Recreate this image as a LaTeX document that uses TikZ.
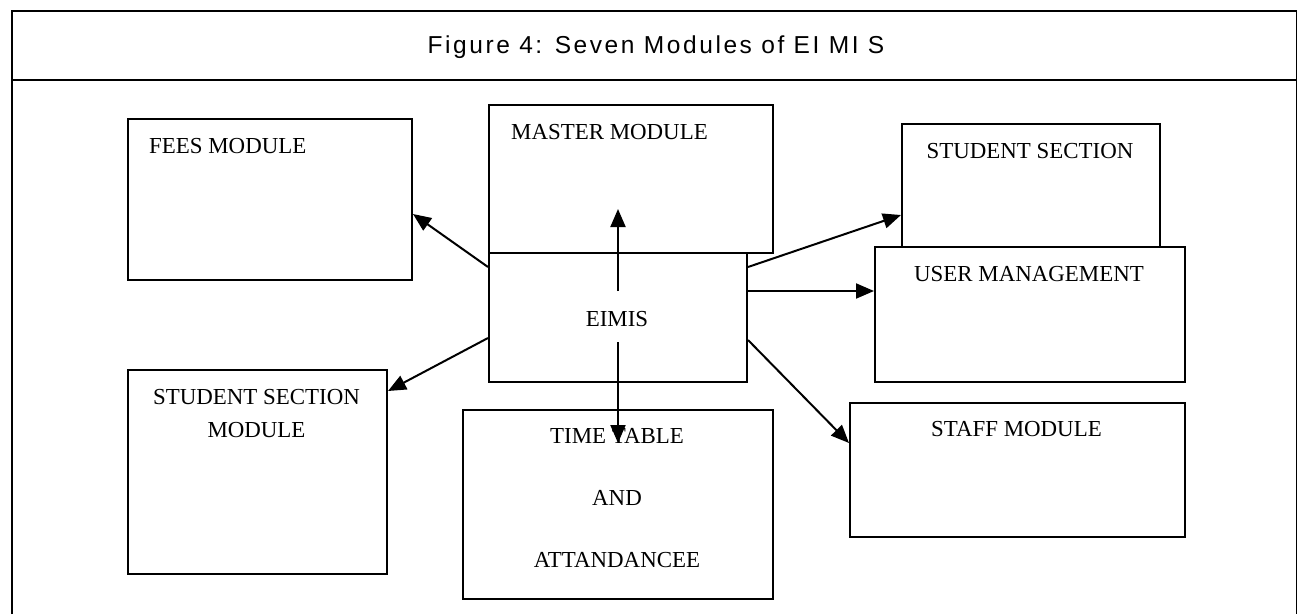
\documentclass[tikz,border=0pt]{standalone}
\usepackage{fontspec}
\setmainfont{Liberation Serif}
\newfontfamily\titlefont[LetterSpace=10.5]{Liberation Sans}
\usetikzlibrary{arrows.meta}
\begin{document}
\begin{tikzpicture}[x=1pt,y=-1pt,
  box/.style={draw, line width=2pt, fill=white, inner sep=0pt, anchor=north west},
  txt/.style={inner sep=0pt, font=\fontsize{22.9}{27}\selectfont},
  arr/.style={-{Triangle[length=18pt,width=15pt]}, line width=2pt},
  frameline/.style={line width=1.5pt}]
\useasboundingbox (0,0) rectangle (1298,614);
% outer frame
\draw[frameline] (12,614) -- (12,11) -- (1296.5,11) -- (1296.5,614);
\draw[line width=2.5pt] (12,80) -- (1296.5,80);
\node[inner sep=0pt, anchor=base, font=\titlefont\fontsize{24.5}{29}\selectfont] (title) at (656,53) {Figure 4: Seven Modules of EI MI S};
% boxes
\node[box, minimum width=284pt, minimum height=161pt] (fees) at (127,118) {};
\node[box, minimum width=284pt, minimum height=148pt] (master) at (488,104) {};
\node[box, minimum width=258pt, minimum height=129pt] (eimis) at (488,252) {};
\node[box, minimum width=258pt, minimum height=123pt] (ss) at (901,123) {};
\node[box, minimum width=310pt, minimum height=135pt] (um) at (874,246) {};
\node[box, minimum width=259pt, minimum height=204pt] (ssm) at (127,369) {};
\node[box, minimum width=310pt, minimum height=189pt] (tt) at (462,409) {};
\node[box, minimum width=335pt, minimum height=134pt] (staff) at (849,402) {};
% texts
\node[txt, anchor=base west] (feest) at (149,153) {FEES MODULE};
\node[txt, anchor=base west] (mastert) at (511,139) {MASTER MODULE};
\node[txt, anchor=base] (sst) at (1030,158) {STUDENT SECTION};
\node[txt, anchor=base] (umt) at (1029,281) {USER MANAGEMENT};
\node[txt, anchor=base] (eimist) at (617,326) {EIMIS};
\node[txt, anchor=base] (ssmt1) at (256.5,404) {STUDENT SECTION};
\node[txt, anchor=base] (ssmt2) at (256.5,437) {MODULE};
\node[txt, anchor=base] (ttt1) at (617,443) {TIME TABLE};
\node[txt, anchor=base] (ttt2) at (617,505) {AND};
\node[txt, anchor=base] (ttt3) at (617,567) {ATTANDANCEE};
\node[txt, anchor=base] (stafft) at (1016.5,436) {STAFF MODULE};
% connectors
\draw[arr] ([yshift=-15pt]eimis.north west) -- ([yshift=-96pt]fees.north east);
\draw[arr] ([yshift=-86pt]eimis.north west) -- ([yshift=-22pt]ssm.north east);
\draw[arr] ([yshift=-39pt]eimis.north) -- ([yshift=43pt]eimis.north);
\draw[arr] ([yshift=-90pt]eimis.north) -- ([yshift=-34pt]tt.north);
\draw[arr] ([yshift=-15pt]eimis.north east) -- ([yshift=-92pt]ss.north west);
\draw[arr] ([yshift=-39pt]eimis.north east) -- ([yshift=-45pt]um.north west);
\draw[arr] ([yshift=-88pt]eimis.north east) -- ([yshift=-41pt]staff.north west);
\end{tikzpicture}
\end{document}
